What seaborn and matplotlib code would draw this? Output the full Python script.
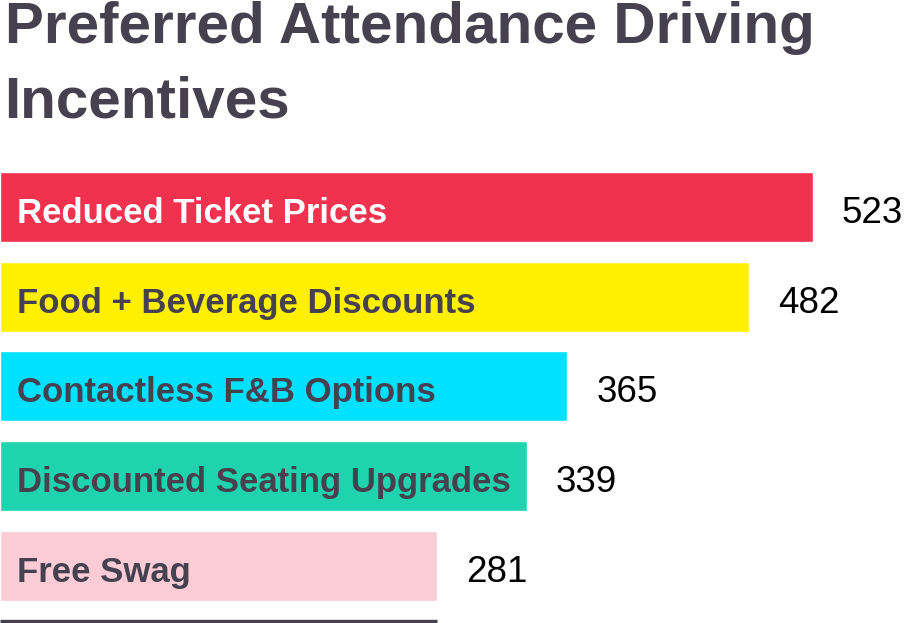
import matplotlib
matplotlib.use("Agg")
import matplotlib.pyplot as plt
import seaborn as sns
import pandas as pd

# data
categories = ["Reduced Ticket Prices", "Food + Beverage Discounts", "Contactless F&B Options",
              "Discounted Seating Upgrades", "Free Swag"]
values = [523, 482, 365, 339, 281]
bar_colors = ["#F0324F", "#FFF000", "#00E1FF", "#1FD3AE", "#FBCCD5"]
label_colors = ["white", "#45414F", "#45414F", "#45414F", "#45414F"]
title_lines = ["Preferred Attendance Driving", "Incentives"]

df = pd.DataFrame({"category": categories, "value": values})

sns.set_theme(style="white")
plt.rcParams["font.family"] = ["Liberation Sans", "DejaVu Sans"]

fig = plt.figure(figsize=(9.05, 6.23), dpi=100)
ax = fig.add_axes([0, 0, 1, 1 - 160 / 623])

sns.barplot(data=df, x="value", y="category", hue="category", palette=bar_colors,
            legend=False, width=0.78, saturation=1, ax=ax)

ax.set_xlim(0, 582.5)
ax.set_ylim(4.64, -0.525)
ax.axis("off")

for i, (cat, val) in enumerate(zip(categories, values)):
    ax.annotate(cat, xy=(0, i), xytext=(12, -11.5), textcoords="offset points",
                va="baseline", ha="left", fontsize=25, fontweight="bold", color=label_colors[i])
    ax.annotate(str(val), xy=(val, i), xytext=(21, -11.5), textcoords="offset points",
                va="baseline", ha="left", fontsize=26.5, color="black")

# base rule under the bars
ax.hlines(4.62, 0, values[-1], color="#45414F", linewidth=2.4)

# two-line title
for k, line in enumerate(title_lines):
    fig.text(0.005, 1 - (43 + 75 * k) / 623, line, fontsize=42, fontweight="bold",
             color="#45414F", ha="left", va="baseline")

fig.savefig("out.png", dpi=100)
